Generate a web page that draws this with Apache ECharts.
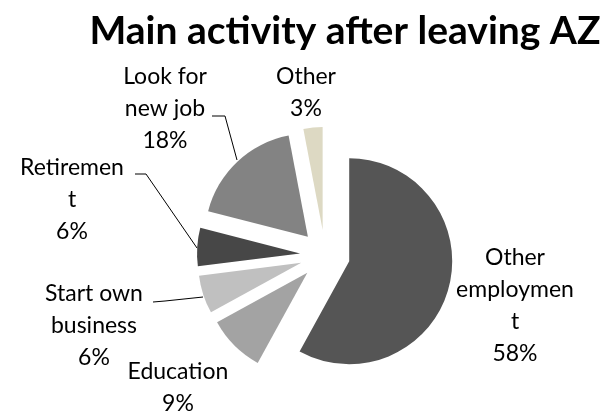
<!DOCTYPE html>
<html>
<head>
<meta charset="utf-8">
<script src="https://cdn.jsdelivr.net/npm/echarts@6/dist/echarts.min.js"></script>
<style>
  html, body { margin: 0; padding: 0; background: #fff; }
  #main { width: 608px; height: 412px; }
</style>
</head>
<body>
<div id="main"></div>
<script>
// data (percent of respondents)
var categories = ['Other employment', 'Education', 'Start own business', 'Retirement', 'Look for new job', 'Other'];
var values = [58, 9, 6, 6, 18, 3];
// label text wrapped the way the original chart wraps it
var labelText = ['Other\nemploymen\nt', 'Education', 'Start own\nbusiness', 'Retiremen\nt', 'Look for\nnew job', 'Other'];

var colors = ['#555555', '#a3a3a3', '#c0c0c0', '#474747', '#838383', '#ddd9c3'];
// label block centres and leader lines (layout only)
var labelPos = [[515, 306], [178, 388], [94, 326], [72, 200], [165, 109], [306, 93]];
var leaders = [
  null,
  null,
  [[203, 297], [165, 301], [153, 302]],
  [[197, 248], [146, 174], [135, 174]],
  [[237, 160], [225, 116], [212, 116]],
  null
];

var chart = echarts.init(document.getElementById('main'));

var pieData = categories.map(function (name, i) {
  return {
    name: name,
    value: values[i],
    selected: true,
    itemStyle: { color: colors[i] }
  };
});

// labels and leader lines drawn as graphics so they sit where Excel put them
var graphics = [];
categories.forEach(function (name, i) {
  graphics.push({
    type: 'text',
    x: labelPos[i][0],
    y: labelPos[i][1],
    silent: true,
    style: {
      text: labelText[i] + '\n' + values[i] + '%',
      font: '23px Lato',
      lineHeight: 32,
      fill: '#000',
      align: 'center',
      verticalAlign: 'middle'
    }
  });
  if (leaders[i]) {
    graphics.push({
      type: 'polyline',
      silent: true,
      shape: { points: leaders[i] },
      style: { stroke: '#000', lineWidth: 1, fill: null }
    });
  }
});

var option = {
  animation: false,
  title: {
    text: 'Main activity after leaving AZ',
    left: 340,
    textAlign: 'center',
    top: 7,
    textStyle: { fontFamily: 'Lato', fontWeight: 'bold', fontSize: 39, color: '#000' }
  },
  graphic: graphics,
  series: [
    {
      type: 'pie',
      center: [325, 255],
      radius: 103,
      startAngle: 90,
      clockwise: true,
      selectedMode: 'multiple',
      selectedOffset: 25,
      data: pieData,
      label: { show: false },
      labelLine: { show: false }
    }
  ]
};

chart.setOption(option);
</script>
</body>
</html>
